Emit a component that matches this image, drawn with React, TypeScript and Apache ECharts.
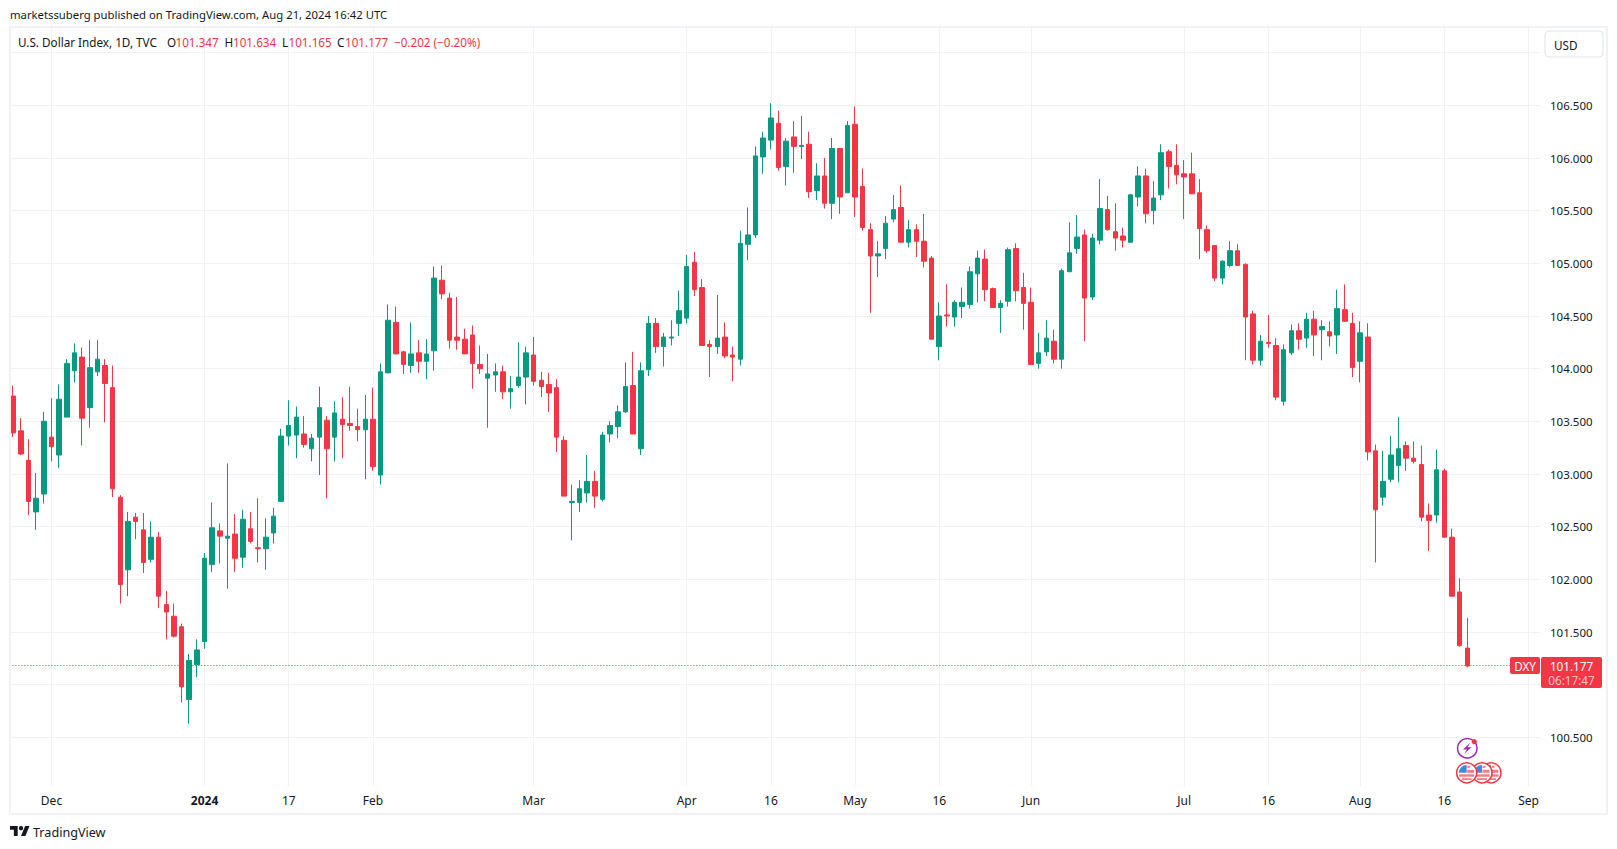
import React, { useEffect, useRef } from 'react'
import * as echarts from 'echarts'

const UP = '#089981'
const DOWN = '#F23645'
const GRID = '#F1F2F6'
const INK = '#131722'
const FONT = '"Noto Sans", sans-serif'

const opens = [
  103.74, 103.41, 103.13, 102.64, 102.81, 103.35, 103.18, 103.54, 103.98, 104.11,
  103.63, 103.97, 104.03, 103.82, 102.78, 102.09, 102.59, 102.47, 102.19, 102.40,
  101.76, 101.65, 101.55, 100.86, 101.19, 101.41, 102.14, 102.46, 102.39, 102.43,
  102.21, 102.48, 102.30, 102.29, 102.44, 102.74, 103.36, 103.37, 103.38, 103.24,
  103.35, 103.51, 103.35, 103.52, 103.48, 103.45, 103.42, 103.52, 102.99, 103.96,
  104.44, 104.16, 104.03, 104.15, 104.07, 104.17, 104.84, 104.67, 104.30, 104.28,
  104.32, 104.04, 103.91, 103.94, 103.97, 103.78, 103.84, 103.92, 104.13, 103.89,
  103.85, 103.82, 103.32, 102.73, 102.73, 102.82, 102.93, 102.76, 103.38, 103.45,
  103.59, 103.84, 103.24, 103.99, 104.43, 104.21, 104.29, 104.43, 104.48, 105.01,
  104.77, 104.23, 104.21, 104.30, 104.13, 104.09, 105.18, 105.27, 106.01, 106.17,
  106.33, 105.92, 106.20, 106.11, 106.13, 105.69, 105.83, 105.57, 106.09, 105.67,
  106.32, 105.73, 105.32, 105.07, 105.14, 105.42, 105.53, 105.20, 105.32, 105.21,
  105.05, 104.21, 104.51, 104.49, 104.59, 104.61, 104.90, 105.04, 104.76, 104.58,
  104.64, 105.14, 104.77, 104.63, 104.05, 104.16, 104.26, 104.09, 104.92, 105.14,
  105.27, 104.68, 105.22, 105.51, 105.30, 105.26, 105.20, 105.63, 105.83, 105.50,
  105.65, 106.06, 105.93, 105.85, 105.85, 105.67, 105.32, 105.17, 104.86, 104.98,
  105.12, 104.99, 104.52, 104.08, 104.25, 104.22, 103.69, 104.15, 104.36, 104.29,
  104.47, 104.37, 104.35, 104.32, 104.56, 104.43, 104.07, 104.30, 103.22, 102.78,
  102.95, 103.08, 103.27, 103.15, 103.09, 102.61, 102.61, 103.03, 102.40, 101.88,
  101.347
]

const closes = [
  103.39, 103.19, 102.74, 102.77, 103.50, 103.26, 103.71, 104.05, 104.15, 103.53,
  104.01, 104.09, 103.86, 102.86, 101.95, 102.55, 102.55, 102.16, 102.40, 101.84,
  101.69, 101.46, 100.98, 101.23, 101.33, 102.20, 102.49, 102.41, 102.41, 102.20,
  102.57, 102.36, 102.29, 102.40, 102.60, 103.36, 103.46, 103.54, 103.28, 103.34,
  103.63, 103.24, 103.58, 103.47, 103.46, 103.42, 103.52, 103.07, 103.97, 104.46,
  104.14, 104.04, 104.14, 104.07, 104.14, 104.86, 104.71, 104.27, 104.27, 104.14,
  104.05, 104.00, 103.95, 103.97, 103.78, 103.81, 103.92, 104.15, 103.88, 103.83,
  103.77, 103.35, 102.79, 102.74, 102.86, 102.93, 102.79, 103.37, 103.46, 103.59,
  103.83, 103.38, 103.98, 104.43, 104.21, 104.30, 104.30, 104.55, 104.97, 104.75,
  104.22, 104.21, 104.29, 104.12, 104.11, 105.19, 105.27, 106.02, 106.19, 106.38,
  105.91, 106.16, 106.11, 106.12, 105.68, 105.83, 105.57, 106.09, 105.63, 106.31,
  105.63, 105.34, 105.07, 105.09, 105.38, 105.51, 105.20, 105.32, 105.21, 105.02,
  104.28, 104.50, 104.50, 104.63, 104.63, 104.92, 105.05, 104.75, 104.58, 104.62,
  105.13, 104.74, 104.62, 104.04, 104.15, 104.29, 104.09, 104.93, 105.10, 105.25,
  104.67, 105.24, 105.52, 105.32, 105.24, 105.22, 105.65, 105.83, 105.47, 105.62,
  106.05, 105.92, 105.84, 105.82, 105.66, 105.33, 105.12, 104.86, 105.02, 105.12,
  104.98, 104.49, 104.08, 104.26, 104.24, 103.73, 104.18, 104.36, 104.28, 104.47,
  104.32, 104.40, 104.31, 104.57, 104.45, 104.01, 104.34, 103.21, 102.66, 102.93,
  103.18, 103.24, 103.15, 103.12, 102.59, 102.56, 103.04, 102.40, 101.84, 101.37,
  101.177
]

const lows = [
  103.35, 103.18, 102.61, 102.47, 102.72, 103.12, 103.06, 103.54, 103.87, 103.27,
  103.44, 103.93, 103.49, 102.78, 101.77, 101.84, 102.38, 102.06, 102.16, 101.73,
  101.43, 101.45, 100.83, 100.63, 101.07, 101.34, 102.07, 102.15, 101.91, 102.07,
  102.11, 102.34, 102.16, 102.09, 102.34, 102.74, 103.27, 103.15, 103.25, 103.12,
  102.99, 102.77, 103.12, 103.15, 103.41, 103.31, 102.95, 103.03, 102.90, 103.96,
  104.14, 103.95, 103.96, 103.96, 103.90, 103.98, 104.66, 104.19, 104.18, 104.14,
  103.81, 103.95, 103.44, 103.78, 103.71, 103.62, 103.82, 103.66, 103.84, 103.73,
  103.59, 103.21, 102.79, 102.37, 102.64, 102.73, 102.68, 102.74, 103.30, 103.34,
  103.58, 103.38, 103.18, 103.93, 104.15, 104.02, 104.22, 104.31, 104.43, 104.69,
  104.22, 103.92, 104.14, 104.10, 103.88, 104.03, 105.03, 105.24, 105.85, 106.08,
  105.88, 105.74, 105.86, 105.99, 105.62, 105.60, 105.52, 105.42, 105.47, 105.67,
  105.44, 105.31, 104.53, 104.87, 105.04, 105.39, 105.20, 105.15, 105.06, 104.96,
  104.28, 104.08, 104.40, 104.40, 104.48, 104.57, 104.63, 104.64, 104.58, 104.34,
  104.59, 104.64, 104.37, 104.04, 104.00, 104.12, 104.05, 104.00, 104.92, 105.09,
  104.26, 104.65, 105.18, 105.31, 105.12, 105.15, 105.20, 105.54, 105.38, 105.37,
  105.60, 105.71, 105.75, 105.42, 105.66, 105.04, 105.10, 104.83, 104.80, 104.96,
  104.98, 104.08, 104.04, 104.03, 104.20, 103.70, 103.65, 104.13, 104.18, 104.20,
  104.12, 104.08, 104.21, 104.14, 104.45, 103.92, 103.87, 103.13, 102.16, 102.70,
  102.92, 102.92, 103.03, 103.10, 102.55, 102.27, 102.54, 102.40, 101.84, 101.36,
  101.165
]

const highs = [
  103.84, 103.53, 103.33, 103.01, 103.59, 103.72, 103.85, 104.09, 104.24, 104.20,
  104.27, 104.27, 104.09, 104.03, 102.80, 102.64, 102.63, 102.63, 102.55, 102.45,
  101.89, 101.77, 101.58, 101.29, 101.43, 102.25, 102.73, 102.53, 103.10, 102.62,
  102.66, 102.64, 102.77, 102.58, 102.68, 103.43, 103.70, 103.64, 103.55, 103.38,
  103.83, 103.55, 103.69, 103.73, 103.83, 103.62, 103.75, 103.82, 104.05, 104.61,
  104.59, 104.17, 104.44, 104.27, 104.28, 104.97, 104.98, 104.72, 104.68, 104.38,
  104.41, 104.22, 104.14, 104.05, 104.03, 103.93, 104.25, 104.21, 104.30, 103.97,
  103.96, 103.90, 103.36, 102.90, 102.94, 103.18, 103.03, 103.40, 103.50, 103.65,
  104.06, 104.16, 104.06, 104.50, 104.48, 104.34, 104.46, 104.74, 105.08, 105.11,
  104.85, 104.27, 104.70, 104.44, 104.21, 105.31, 105.53, 106.11, 106.25, 106.52,
  106.45, 106.19, 106.35, 106.40, 106.25, 105.95, 106.00, 106.19, 106.09, 106.35,
  106.49, 105.90, 105.38, 105.21, 105.45, 105.65, 105.74, 105.41, 105.37, 105.47,
  105.07, 104.63, 104.80, 104.65, 104.77, 104.97, 105.12, 105.13, 104.77, 104.65,
  105.15, 105.19, 104.91, 104.77, 104.34, 104.46, 104.37, 104.95, 105.39, 105.46,
  105.32, 105.28, 105.80, 105.64, 105.57, 105.34, 105.66, 105.92, 105.90, 105.78,
  106.13, 106.08, 106.13, 105.98, 106.05, 105.80, 105.36, 105.17, 105.03, 105.21,
  105.18, 105.00, 104.55, 104.32, 104.51, 104.29, 104.23, 104.42, 104.43, 104.53,
  104.55, 104.46, 104.45, 104.75, 104.80, 104.53, 104.45, 104.43, 103.28, 103.22,
  103.36, 103.54, 103.31, 103.31, 103.27, 102.72, 103.23, 103.05, 102.48, 102.01,
  101.634
]

// Slots on the time scale that carry a label, and the label itself
const tickSlots = [5, 25, 36, 47, 68, 88, 99, 110, 121, 133, 153, 164, 176, 187, 198]
const tickLabels = ['Dec', '2024', '17', 'Feb', 'Mar', 'Apr', '16', 'May', '16', 'Jun', 'Jul', '16', 'Aug', '16', 'Sep']
const slotCount = 200
const lastPrice = 101.177

const ohlcLegend = [
  { x: 167, text: 'O', fill: INK },
  { x: 175.5, text: '101.347', fill: DOWN },
  { x: 224.5, text: 'H', fill: INK },
  { x: 233, text: '101.634', fill: DOWN },
  { x: 282, text: 'L', fill: INK },
  { x: 288.5, text: '101.165', fill: DOWN },
  { x: 337, text: 'C', fill: INK },
  { x: 345, text: '101.177', fill: DOWN },
  { x: 394, text: '−0.202 (−0.20%)', fill: DOWN }
]

const text = (x: number, y: number, value: string, fill = INK, extra: any = {}) => ({
  type: 'text',
  z: 10,
  x,
  y,
  style: { text: value, fill, font: `11.7px ${FONT}`, textVerticalAlign: 'middle', ...extra }
})

const flag = (cx: number, cy: number, z: number) => [
  { type: 'circle', z, shape: { cx, cy, r: 10 }, style: { fill: '#fff', stroke: DOWN, lineWidth: 1.5 } },
  { type: 'sector', z, shape: { cx, cy, r: 7.8, startAngle: Math.PI, endAngle: Math.PI * 1.5 }, style: { fill: '#3D8BE0' } },
  { type: 'rect', z, shape: { x: cx + 0.5, y: cy - 7, width: 3, height: 2 }, style: { fill: '#F77C80' } },
  { type: 'rect', z, shape: { x: cx + 0.5, y: cy - 3, width: 6.8, height: 3 }, style: { fill: '#F77C80' } },
  { type: 'rect', z, shape: { x: cx - 7.6, y: cy + 1.5, width: 15.2, height: 2.4 }, style: { fill: '#F77C80' } },
  { type: 'rect', z, shape: { x: cx - 5, y: cy + 5.4, width: 10, height: 1.8 }, style: { fill: '#F77C80' } }
]

echarts.graphic.registerShape(
  'tvLogo',
  echarts.graphic.extendPath('M14 22H7V11H0V4h14v18ZM28 22h-8l7.5-18h8L28 22Z', {}) as any
)

const App: React.FC = () => {
  const chartRef = useRef<HTMLDivElement>(null)

  useEffect(() => {
    if (!chartRef.current) return
    const chart = echarts.init(chartRef.current, undefined, { renderer: 'svg' })

    const option: any = {
      animation: false,
      backgroundColor: '#fff',
      grid: { left: 9.4, top: 0, width: 1530.6, height: 790, containLabel: false },
      xAxis: {
        type: 'category',
        data: Array.from({ length: slotCount }, (_, i) => String(i)),
        axisLine: { show: false },
        axisTick: { show: false },
        splitLine: {
          show: true,
          alignWithLabel: true,
          interval: (i: number) => tickSlots.includes(i),
          lineStyle: { color: GRID, width: 1 }
        },
        axisLabel: {
          interval: (i: number) => tickSlots.includes(i),
          margin: 4,
          color: INK,
          fontSize: 12,
          fontFamily: FONT,
          formatter: (v: string) => {
            const label = tickLabels[tickSlots.indexOf(Number(v))]
            return label === '2024' ? `{bold|${label}}` : label
          },
          rich: { bold: { fontWeight: 'bold', fontSize: 12, fontFamily: FONT, color: INK } }
        }
      },
      yAxis: {
        type: 'value',
        position: 'right',
        min: 100,
        max: 107.5,
        interval: 0.5,
        axisLine: { show: false },
        axisTick: { show: false },
        splitLine: { show: true, lineStyle: { color: GRID, width: 1 } },
        axisLabel: {
          margin: 10,
          color: INK,
          fontSize: 11.5,
          fontFamily: FONT,
          formatter: (v: number) => (v <= 100 || v >= 107 || v === 101 ? '' : v.toFixed(3))
        }
      },
      series: [
        {
          type: 'candlestick',
          barWidth: 5,
          data: opens.map((o, i) => [o, closes[i], lows[i], highs[i]]),
          itemStyle: { color: UP, color0: DOWN, borderColor: UP, borderColor0: DOWN, borderWidth: 1 },
          markLine: {
            silent: true,
            symbol: 'none',
            label: { show: false },
            lineStyle: { color: DOWN, type: [1, 2], width: 1 },
            data: [{ yAxis: lastPrice }]
          }
        }
      ],
      graphic: {
        elements: [
          // Blank bands over the parts of the grid outside the pane
          { type: 'rect', z: 5, shape: { x: 0, y: 0, width: 1617, height: 27 }, style: { fill: '#fff' } },
          { type: 'rect', z: 5, shape: { x: 0, y: 786, width: 1617, height: 5 }, style: { fill: '#fff' } },
          { type: 'rect', z: 6, shape: { x: 10, y: 27, width: 1597, height: 787 }, style: { fill: 'none', stroke: GRID, lineWidth: 2 } },

          text(10, 14.5, 'marketssuberg published on TradingView.com, Aug 21, 2024 16:42 UTC', INK, { font: `11.3px ${FONT}` }),
          text(18, 41.5, 'U.S. Dollar Index, 1D, TVC'),
          ...ohlcLegend.map(item => text(item.x, 41.5, item.text, item.fill)),

          { type: 'rect', z: 10, shape: { x: 1545, y: 31, width: 58, height: 26, r: 4 }, style: { fill: '#fff', stroke: '#E0E3EB', lineWidth: 1 } },
          text(1554, 44.5, 'USD'),

          { type: 'rect', z: 10, shape: { x: 1510, y: 657, width: 30, height: 17, r: 2 }, style: { fill: DOWN } },
          text(1525, 665.5, 'DXY', '#fff', { textAlign: 'center' }),
          { type: 'rect', z: 10, shape: { x: 1541, y: 657, width: 61, height: 31, r: 2 }, style: { fill: DOWN } },
          text(1571.5, 665.5, '101.177', '#fff', { textAlign: 'center' }),
          text(1571.5, 679.5, '06:17:47', 'rgba(255,255,255,0.7)', { textAlign: 'center' }),

          { type: 'circle', z: 10, shape: { cx: 1467.3, cy: 748.3, r: 9.7 }, style: { fill: '#fff', stroke: '#9C27B0', lineWidth: 1.5 } },
          { type: 'polygon', z: 10, shape: { points: [[1470.5, 742.5], [1463, 749.5], [1467, 749.5], [1464, 754], [1471.5, 747.2], [1467.5, 747.2]] }, style: { fill: '#9C27B0' } },
          { type: 'circle', z: 10, shape: { cx: 1474.3, cy: 741.7, r: 2.6 }, style: { fill: DOWN } },
          ...flag(1491, 772.8, 10),
          ...flag(1482, 772.8, 11),
          ...flag(1466.7, 772.8, 12),

          { type: 'tvLogo', z: 10, x: 10, y: 823.8, scaleX: 0.55, scaleY: 0.55, style: { fill: INK } },
          { type: 'circle', z: 10, shape: { cx: 21, cy: 828.2, r: 2.2 }, style: { fill: INK } },
          text(33, 832, 'TradingView', INK, { font: `12.6px ${FONT}` })
        ]
      }
    }

    chart.setOption(option)
    return () => chart.dispose()
  }, [])

  return <div ref={chartRef} style={{ position: 'absolute', left: 0, top: 0, width: 1617, height: 849 }} />
}

export default App
